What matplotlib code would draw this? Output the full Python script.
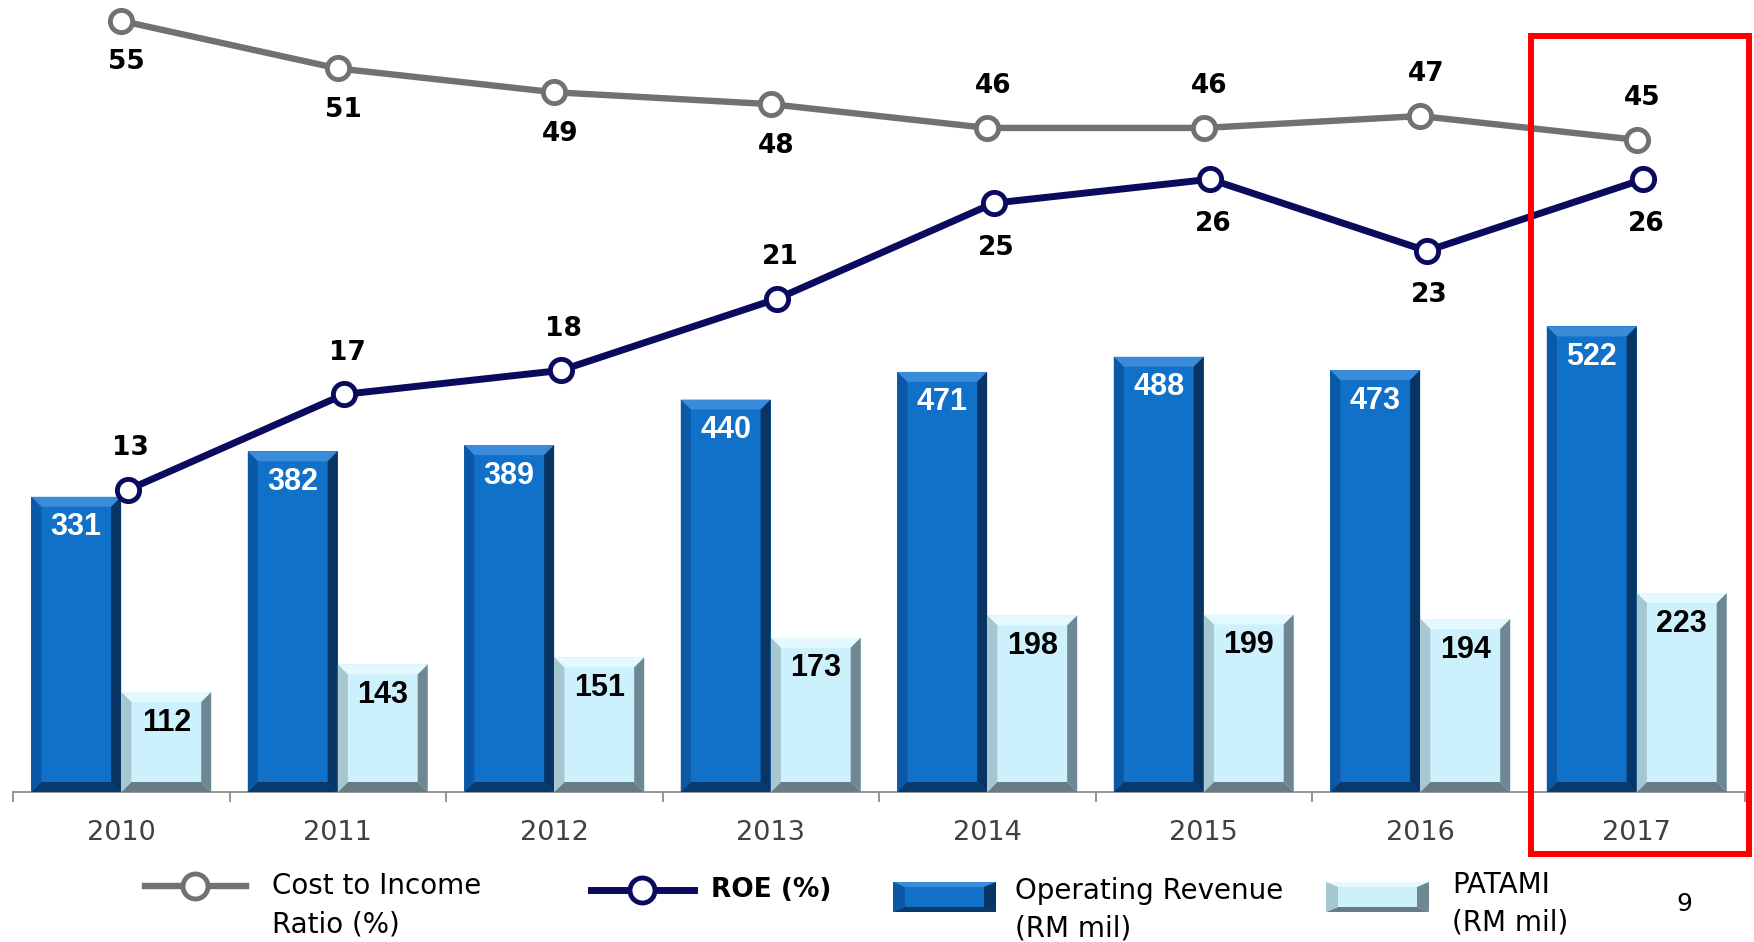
import numpy as np
import matplotlib.pyplot as plt
from matplotlib.patches import Polygon, Rectangle
from matplotlib.lines import Line2D

years = ['2010', '2011', '2012', '2013', '2014', '2015', '2016', '2017']
op_revenue = [331, 382, 389, 440, 471, 488, 473, 522]
patami = [112, 143, 151, 173, 198, 199, 194, 223]
roe = [13, 17, 18, 21, 25, 26, 23, 26]
cost_income = [55, 51, 49, 48, 46, 46, 47, 45]

BLUE = '#1170C8'
BLUE_BEVEL = ['#3a8cdb', '#0a3a6c', '#0b58a6', '#083563']   # top, bottom, left, right
LIGHT = '#CCF0FC'
LIGHT_BEVEL = ['#e4f9ff', '#687c85', '#a6c6d0', '#6d8892']
GRAY = '#747070'
NAVY = '#0a0a5e'


def bevel(axo, x0, y0, x1, y1, bx, by, cols):
    # draw 4 trapezoid edges around a rectangle (display pixel coords)
    top = [(x0, y1), (x1, y1), (x1 - bx, y1 - by), (x0 + bx, y1 - by)]
    bot = [(x0, y0), (x1, y0), (x1 - bx, y0 + by), (x0 + bx, y0 + by)]
    left = [(x0, y0), (x0, y1), (x0 + bx, y1 - by), (x0 + bx, y0 + by)]
    right = [(x1, y0), (x1, y1), (x1 - bx, y1 - by), (x1 - bx, y0 + by)]
    for poly, c in zip([top, bot, left, right], cols):
        axo.add_patch(Polygon(poly, closed=True, facecolor=c, edgecolor='none'))


fig = plt.figure(figsize=(17.54, 9.42), dpi=100)
W, H = 1754, 942
ax = fig.add_axes([13 / W, (H - 792) / H, 1732 / W, 792 / H])
ax.patch.set_alpha(0)
x = np.arange(len(years))
bw = 0.415
b1 = ax.bar(x - 0.208, op_revenue, bw, color=BLUE, zorder=2)
b2 = ax.bar(x + 0.208, patami, bw, color=LIGHT, zorder=2)
ax.set_xlim(-0.5, 7.5)
ax.set_ylim(0, 888)
for s in ['top', 'right', 'left']:
    ax.spines[s].set_visible(False)
ax.spines['bottom'].set_color('#8c8c8c')
ax.spines['bottom'].set_linewidth(1.3)
ax.set_yticks([])
ax.set_xticks(np.arange(-0.5, 8, 1))
ax.set_xticklabels([])
ax.tick_params(axis='x', which='major', length=7, color='#8c8c8c', width=1.3)
ax.set_xticks(x, labels=years, minor=True)
ax.tick_params(axis='x', which='minor', length=0, pad=20, labelsize=19.5, labelcolor='#404040')

for i in range(len(years)):
    ax.annotate(str(op_revenue[i]), (x[i] - 0.208, op_revenue[i]), xytext=(0, -22),
                textcoords='offset points', ha='center', va='center', color='white',
                fontsize=22, fontweight='bold', family='Liberation Sans', zorder=5)
    ax.annotate(str(patami[i]), (x[i] + 0.208, patami[i]), xytext=(0, -22),
                textcoords='offset points', ha='center', va='center', color='black',
                fontsize=22, fontweight='bold', family='Liberation Sans', zorder=5)

# overlay in pixel coords for bevels
ov = fig.add_axes([0, 0, 1, 1])
ov.set_xlim(0, W)
ov.set_ylim(0, H)
ov.axis('off')
ov.set_zorder(1)

for bars, cols in [(b1, BLUE_BEVEL), (b2, LIGHT_BEVEL)]:
    for r in bars:
        (px0, py0), (px1, py1) = ax.transData.transform(
            [(r.get_x(), 0), (r.get_x() + r.get_width(), r.get_height())])
        bevel(ov, px0, py0, px1, py1, 10, 10, cols)

# ROE line
ax2 = ax.twinx()
ax2.set_zorder(2)
ax2.patch.set_visible(False)
ax2.set_ylim(0.36, 33.5)
ax2.axis('off')
ax2.plot(x + 0.03, roe, color=NAVY, lw=5, marker='o', ms=16, mfc='white', mec=NAVY, mew=3.5,
         clip_on=False)
for i, v in enumerate(roe):
    off = 30 if i < 4 else -32
    ax2.annotate(str(v), (x[i] + 0.03, v), xytext=(2, off), textcoords='offset points',
                 ha='center', va='center', fontsize=19, fontweight='bold')

# cost to income line
ax3 = ax.twinx()
ax3.set_zorder(3)
ax3.patch.set_visible(False)
ax3.set_ylim(-9.8, 56.75)
ax3.axis('off')
ax3.plot(x, cost_income, color=GRAY, lw=4.6, marker='o', ms=16, mfc='white', mec=GRAY, mew=3.5,
         clip_on=False)
for i, v in enumerate(cost_income):
    off = -30 if i < 4 else 30
    ax3.annotate(str(v), (x[i], v), xytext=(4, off), textcoords='offset points',
                 ha='center', va='center', fontsize=19, fontweight='bold')

# legend (drawn by hand)
leg = fig.add_axes([0, 0, 1, 1])
leg.set_xlim(0, W)
leg.set_ylim(0, H)
leg.axis('off')
leg.set_zorder(4)
leg.add_line(Line2D([145, 246], [H - 886] * 2, color=GRAY, lw=4.6))
leg.plot([195], [H - 886], marker='o', ms=18, mfc='white', mec=GRAY, mew=3.5)
leg.text(272, H - 886, 'Cost to Income', fontsize=20, va='center', ha='left')
leg.text(272, H - 924, 'Ratio (%)', fontsize=20, va='center', ha='left')
leg.add_line(Line2D([591, 694], [H - 890] * 2, color=NAVY, lw=5))
leg.plot([642], [H - 890], marker='o', ms=18, mfc='white', mec=NAVY, mew=3.5)
leg.text(711, H - 890, 'ROE (%)', fontsize=19, fontweight='bold', va='center', ha='left')

leg.add_patch(Rectangle((893, H - 912), 103, 30, facecolor=BLUE, edgecolor='none'))
bevel(leg, 893, H - 912, 996, H - 882, 12, 5, BLUE_BEVEL)
leg.text(1015, H - 891, 'Operating Revenue', fontsize=20, va='center', ha='left')
leg.text(1015, H - 928, '(RM mil)', fontsize=20, va='center', ha='left')

leg.add_patch(Rectangle((1326, H - 912), 103, 30, facecolor=LIGHT, edgecolor='none'))
bevel(leg, 1326, H - 912, 1429, H - 882, 12, 5, LIGHT_BEVEL)
leg.text(1452, H - 885, 'PATAMI', fontsize=20, va='center', ha='left')
leg.text(1452, H - 923, '(RM mil)', fontsize=20, va='center', ha='left')

leg.text(1684, H - 904, '9', fontsize=18, va='center', ha='center')

# red highlight box for 2017
leg.add_patch(Rectangle((1531, H - 854), 218, 818, fill=False, edgecolor='red', lw=4.3))

fig.savefig('out.png', dpi=100, facecolor='white')
